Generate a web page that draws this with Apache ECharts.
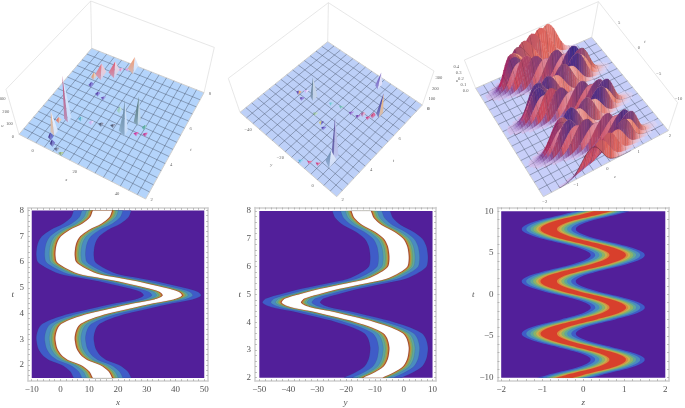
<!DOCTYPE html>
<html>
<head>
<meta charset="utf-8">
<style>
  html, body { margin: 0; padding: 0; background: #fff; }
  #chart { width: 685px; height: 408px; filter: blur(0.45px); }
</style>
<script src="https://cdn.jsdelivr.net/npm/echarts@6/dist/echarts.min.js"></script>
</head>
<body>
<div id="chart"></div>
<script>
/* -------------------------------------------------------------------------- */
/*                                    Data                                    */
/* -------------------------------------------------------------------------- */
// contour ridges: t rows and the ridge centre at each row
var xRowT = [1.5, 1.75, 2, 2.2, 2.4, 2.65, 2.9, 3.1, 3.4, 3.6, 3.8, 4, 4.2, 4.4, 4.55, 4.7, 4.85, 5, 5.2, 5.4, 5.55, 5.8, 6, 6.25, 6.5, 6.75, 7, 7.25, 7.5, 7.75, 8];
var xCentre = [14.6, 13.4, 10.4, 5.9, 3.6, 2.2, 1.7, 1.6, 2.3, 3.7, 7.5, 13.3, 20.9, 29, 36, 38.9, 37.7, 33, 25.5, 16.2, 9.5, 4.6, 2.1, 1.6, 1.7, 2.2, 3.5, 6.5, 11, 13.7, 14.6];
var xTicks = [-10, 0, 10, 20, 30, 40, 50];
var xMinor = [-8, -6, -4, -2, 2, 4, 6, 8, 12, 14, 16, 18, 22, 24, 26, 28, 32, 34, 36, 38, 42, 44, 46, 48];
var xT = [2, 3, 4, 5, 6, 7, 8];
var xTMinor = [1.6, 1.8, 2.2, 2.4, 2.6, 2.8, 3.2, 3.4, 3.6, 3.8, 4.2, 4.4, 4.6, 4.8, 5.2, 5.4, 5.6, 5.8, 6.2, 6.4, 6.6, 6.8, 7.2, 7.4, 7.6, 7.8];

var yRowT = [2, 2.2, 2.4, 2.65, 2.9, 3.1, 3.4, 3.6, 3.8, 4, 4.2, 4.4, 4.55, 4.7, 4.85, 5, 5.2, 5.4, 5.55, 5.8, 6, 6.25, 6.5, 6.75, 7, 7.25, 7.5, 7.75, 8];
var yCentre = [-10.7, -6.5, -3.6, -2.2, -1.7, -1.6, -2.3, -3.7, -7.5, -13.3, -20.9, -29, -36, -38.9, -37.7, -33, -25.5, -16.2, -9.5, -4.6, -2.1, -1.6, -1.7, -2.2, -3.5, -6.5, -11, -13.7, -14.7];
var yTicks = [-50, -40, -30, -20, -10, 0, 10];
var yMinor = [-48, -46, -44, -42, -38, -36, -34, -32, -28, -26, -24, -22, -18, -16, -14, -12, -8, -6, -4, -2, 2, 4, 6, 8];
var yT = [2, 3, 4, 5, 6, 7, 8];
var yTMinor = [2.2, 2.4, 2.6, 2.8, 3.2, 3.4, 3.6, 3.8, 4.2, 4.4, 4.6, 4.8, 5.2, 5.4, 5.6, 5.8, 6.2, 6.4, 6.6, 6.8, 7.2, 7.4, 7.6, 7.8];

// third panel rows run -10..10 in thirds so the mesh falls on every 4th row
var zRowT = [-10, -9.667, -9.333, -9, -8.667, -8.333, -8, -7.667, -7.333, -7, -6.667, -6.333, -6, -5.667, -5.333, -5, -4.667, -4.333, -4, -3.667, -3.333, -3, -2.667, -2.333, -2, -1.667, -1.333, -1, -0.667, -0.333, 0, 0.333, 0.667, 1, 1.333, 1.667, 2, 2.333, 2.667, 3, 3.333, 3.667, 4, 4.333, 4.667, 5, 5.333, 5.667, 6, 6.333, 6.667, 7, 7.333, 7.667, 8, 8.333, 8.667, 9, 9.333, 9.667, 10];
var zCentre = [-0.46, -0.21, 0.07, 0.35, 0.58, 0.74, 0.83, 0.83, 0.73, 0.55, 0.31, 0.04, -0.24, -0.49, -0.68, -0.81, -0.84, -0.78, -0.64, -0.42, -0.16, 0.12, 0.38, 0.61, 0.76, 0.84, 0.82, 0.71, 0.52, 0.28, 0, -0.28, -0.52, -0.71, -0.82, -0.84, -0.76, -0.61, -0.38, -0.12, 0.16, 0.42, 0.64, 0.78, 0.84, 0.81, 0.68, 0.49, 0.24, -0.04, -0.31, -0.55, -0.73, -0.83, -0.83, -0.74, -0.58, -0.35, -0.07, 0.21, 0.46];
var zPeak = [0.36, 0.38, 0.40, 0.36, 0.44, 0.38, 0.46, 0.34, 0.45, 0.38, 0.44, 0.33, 0.42, 0.36, 0.46, 0.35, 0.40, 0.44, 0.34, 0.46, 0.36, 0.44, 0.33, 0.45, 0.36, 0.46, 0.34, 0.43, 0.37, 0.45, 0.33, 0.42, 0.44, 0.35, 0.46, 0.37, 0.47, 0.33, 0.44, 0.37, 0.45, 0.34, 0.46, 0.38, 0.44, 0.33, 0.46, 0.36, 0.44, 0.35, 0.42, 0.45, 0.36, 0.44, 0.47, 0.42, 0.46, 0.48, 0.50, 0.50, 0.48];
var zProfile = [1, 0.95, 0.8, 0.6, 0.4, 0.24, 0.13, 0.07, 0.035, 0.015, 0.006, 0];
var zTicks = [-2, -1, 0, 1, 2];
var zMinor = [-1.8, -1.6, -1.4, -1.2, -0.8, -0.6, -0.4, -0.2, 0.2, 0.4, 0.6, 0.8, 1.2, 1.4, 1.6, 1.8];
var zT = [-10, -5, 0, 5, 10];
var zTMinor = [-9, -8, -7, -6, -4, -3, -2, -1, 1, 2, 3, 4, 6, 7, 8, 9];

// half width of each contour level, outermost first
var xyLevels = [10, 7.1, 5.5, 4.7, 4.2, 3.9, 3.6, 3.35];
var zLevels = [0.66, 0.55, 0.45, 0.38, 0.31, 0.25, 0.2];

// peaks on the first surface: x, t, height
var peak1X = [3, 1.9, 27.5, 26.4, 30, 14, 7.5, 2.8, 0.5, 1.8, 7, 10.2, 7.6, 12.4, 16.5, 21.2, 34, 32.2, 35.9, 2, 4.3, 7, 9.6, 0.2, 8.8, 11.6, 20];
var peak1T = [3.9, 2.93, 4.52, 4.55, 5.28, 7.76, 7.17, 6.8, 6.53, 6.09, 5.79, 5.73, 4.2, 4.26, 4.4, 4.61, 5.18, 4.73, 4.89, 2.6, 2.33, 2.2, 2.1, 3.6, 7.5, 7.65, 5.44];
var peak1H = [340, 170, 250, 130, 200, 100, 95, 95, 45, 30, 22, 15, 24, 18, 18, 12, 25, 15, 15, 45, 40, 15, 15, 35, 12, 12, 40];

// peaks on the second surface: y, t, height
var peak2Y = [-3.7, -2.8, -31.8, -13.4, -2.4, -5.5, -4.3, -8.5, -9.7, -13.3, -19, -23.6, -35.5, -38.7, -36.9, -25.3, -20, -17.4, -6.9, -10.3, -13.6];
var peak2T = [3.42, 3.05, 5.08, 7.54, 6.4, 5.94, 6.15, 5.92, 5.7, 5.64, 5.59, 5.4, 4.68, 4.81, 5.13, 4.48, 4.3, 4.18, 2.62, 2.41, 2.16];
var peak2H = [340, 110, 190, 130, 200, 16, 40, 30, 16, 14, 10, 16, 15, 24, 14, 16, 22, 14, 12, 12, 14];

var uTicks1 = [0, 100, 200, 300];
var uTicks2 = [0, 100, 200, 300];
var uTicks3 = [0, 0.1, 0.2, 0.3, 0.4];
var xTicks3d = [0, 20, 40];
var yTicks3d = [-40, -20, 0];
var tTicks3d = [2, 4, 6, 8];
var zTicks3d = [-2, -1, 0, 1, 2];
var tTicks3dZ = [-10, -5, 0, 5, 10];

/* -------------------------------------------------------------------------- */
/*                                   Styles                                   */
/* -------------------------------------------------------------------------- */
var purple = '#521f9a';
var xyColors = ['#3f5cc8', '#4a8cc0', '#5fa79c', '#86b068', '#c4a84a', '#d07c34', '#a8422a', '#ffffff'];
var zColors = ['#3f5cc8', '#4a8cc0', '#5fa79c', '#8ab46a', '#c6b04e', '#dd8a3c', '#d83f2c'];
var serif = '"Liberation Serif", serif';

// [dark face, light face] of each peak, same order as the peak arrays
var peak1Faces = [['#c0466e', '#dfe8fb'], ['#f0b080', '#f2f4fd'], ['#5f7f98', '#d5e4f6'], ['#6f93a8', '#e4eefa'], ['#4d6f70', '#c7d8dc'], ['#f49a70', '#e8effc'], ['#e05a70', '#f3d2dc'], ['#e8707a', '#f6c9d0'], ['#f09050', '#f8d0a8'], ['#4a2e9e', '#7a6ad0'], ['#4a2e9e', '#8a7ae0'], ['#5a3aaa', '#a090e0'], ['#48a8c8', '#a0d8e8'], ['#d0a8f0', '#ecd8fa'], ['#404860', '#8a8aa0'], ['#404860', '#8a8aa0'], ['#40a088', '#90c8b8'], ['#d02090', '#f060b0'], ['#c02080', '#e85aa8'], ['#301a80', '#5050c0'], ['#2c1a78', '#6a60c0'], ['#505878', '#9aa0b0'], ['#80a060', '#b8d090'], ['#f06040', '#f8c8a0'], ['#f080c0', '#f8c0e0'], ['#e890d8', '#f8d0f0'], ['#90c8a8', '#c0e0d0']];
var peak2Faces = [['#3a2a80', '#b8b4e0'], ['#6a8ab0', '#e0e8f8'], ['#506f80', '#c8d4e0'], ['#6a50b8', '#f0e8fb'], ['#3a3090', '#f0b070'], ['#d03078', '#e870a0'], ['#c82860', '#e85080'], ['#a85090', '#f0a8c0'], ['#6030a0', '#b070d0'], ['#7040b0', '#b080e0'], ['#60b8a8', '#a0e0d0'], ['#60c8d0', '#a8e0e8'], ['#5a38a8', '#8a70d8'], ['#5030a0', '#f0a060'], ['#d0a8f0', '#f0e0fb'], ['#80b080', '#c0e0c0'], ['#d0c860', '#5a48b0'], ['#4838a8', '#8070d8'], ['#d03070', '#e86890'], ['#d84080', '#f07098'], ['#40b0d8', '#90d8f0']];

// picture-plane geometry of the three boxes: floor corners and box height per corner
var box1 = { floor: [[19, 134.3], [145.7, 199], [204, 92.7], [91.7, 48.3]], up: [[-13, -45], [0, -53], [10.3, -45.3], [-1, -47.3]], top: 360, fill: '#b4d4fb' };
var box2 = { floor: [[15, 112.3], [111.7, 196.7], [197.3, 105], [102.7, 41.7]], up: [[-11.7, -34], [0, -41], [11.7, -34], [0.7, -39]], top: 330, fill: '#bdd0f8' };
var box3 = { floor: [[88.3, 196.7], [213.3, 130.7], [136.7, 37.3], [20.7, 88.3]], up: [[-3, -35], [9.3, -28], [6.7, -35.7], [-11.3, -28.3]], top: 0.48, fill: '#c8cff9' };

/* -------------------------------------------------------------------------- */
/*                                  Helpers                                   */
/* -------------------------------------------------------------------------- */
function blend(c, a, b) {
  return [
    (1 - a) * (1 - b) * c[0][0] + a * (1 - b) * c[1][0] + a * b * c[2][0] + (1 - a) * b * c[3][0],
    (1 - a) * (1 - b) * c[0][1] + a * (1 - b) * c[1][1] + a * b * c[2][1] + (1 - a) * b * c[3][1]
  ];
}

function project(box, a, b, h) {
  var p = blend(box.floor, a, b);
  var u = blend(box.up, a, b);
  var s = h / box.top;
  return [p[0] + s * u[0], p[1] + s * u[1]];
}

function hex(c) {
  return [parseInt(c.substr(1, 2), 16), parseInt(c.substr(3, 2), 16), parseInt(c.substr(5, 2), 16)];
}

function mix(c1, c2, k) {
  k = Math.max(0, Math.min(1, k));
  var a = hex(c1), b = hex(c2);
  var out = '#';
  for (var i = 0; i < 3; i++) {
    var v = Math.round(a[i] + (b[i] - a[i]) * k).toString(16);
    out += v.length < 2 ? '0' + v : v;
  }
  return out;
}

function minusSign(v) {
  return String(v).replace('-', '\u2212');
}

var grids = [], xAxes = [], yAxes = [], series = [];

function hiddenAxes(left) {
  grids.push({ left: left, top: 0, width: 230, height: 205 });
  xAxes.push({ gridIndex: grids.length - 1, type: 'value', min: 0, max: 230, show: false });
  yAxes.push({ gridIndex: grids.length - 1, type: 'value', min: 0, max: 205, inverse: true, show: false });
}

// the surfaces use axes 0, 1 and 2, so these come first
hiddenAxes(0);
hiddenAxes(225);
hiddenAxes(455);

/* -------------------------------------------------------------------------- */
/*                               Contour panels                               */
/* -------------------------------------------------------------------------- */
function frameAxis(gridIndex, position, range, ticks, minor, labelled, name) {
  var axis = {
    gridIndex: gridIndex,
    type: 'value',
    position: position,
    min: range[0],
    max: range[1],
    splitLine: { show: false },
    axisLine: { show: true, onZero: false, lineStyle: { color: '#cfcfcf', width: 1.5 } },
    axisTick: { show: true, inside: true, length: 2, customValues: ticks.concat(minor), lineStyle: { color: '#9a9a9a', width: 0.6 } },
    axisLabel: { show: labelled, customValues: ticks, formatter: minusSign, color: '#555', fontFamily: serif, fontSize: 9, margin: 4 }
  };
  if (name) {
    axis.name = name;
    axis.nameLocation = 'middle';
    axis.nameRotate = 0;
    axis.nameGap = 17;
    axis.nameTextStyle = { color: '#555', fontFamily: serif, fontStyle: 'italic', fontSize: 9 };
  }
  return axis;
}

function contourPanel(opt) {
  var g = grids.length;
  grids.push({ left: opt.left, top: opt.top, width: opt.width, height: opt.height });
  var xi = xAxes.length, yi = yAxes.length;
  xAxes.push(frameAxis(g, 'bottom', opt.xRange, opt.xTicks, opt.xMinor, true, opt.xName));
  xAxes.push(frameAxis(g, 'top', opt.xRange, opt.xTicks, opt.xMinor, false));
  yAxes.push(frameAxis(g, 'left', opt.tRange, opt.tTicks, opt.tMinor, true, 't'));
  yAxes.push(frameAxis(g, 'right', opt.tRange, opt.tTicks, opt.tMinor, false));
  yAxes[yi].nameGap = opt.tGap;

  // level 0 is the plot background, then the nested bands
  var levels = [null].concat(opt.levels);
  series.push({
    type: 'custom',
    coordinateSystem: 'cartesian2d',
    xAxisIndex: xi,
    yAxisIndex: yi,
    clip: false,
    silent: true,
    data: levels.map(function (w, i) { return [i]; }),
    encode: { x: 0, y: 0 },
    renderItem: function (params, api) {
      var i = params.dataIndex;
      if (i === 0) {
        var p0 = api.coord([opt.xFill[0], opt.rows[opt.rows.length - 1]]);
        var p1 = api.coord([opt.xFill[1], opt.rows[0]]);
        return { type: 'rect', shape: { x: p0[0], y: p0[1], width: p1[0] - p0[0], height: p1[1] - p0[1] }, style: { fill: purple } };
      }
      var w = levels[i], left = [], right = [];
      opt.rows.forEach(function (t, k) {
        left.push(api.coord([opt.centre[k] - w, t]));
        right.unshift(api.coord([opt.centre[k] + w, t]));
      });
      // guard points keep the square ends square once the sides are smoothed
      var lastL = left[left.length - 1], firstR = right[0], lastR = right[right.length - 1], firstL = left[0];
      var points = left
        .concat([[lastL[0] + 0.5, lastL[1]], [firstR[0] - 0.5, firstR[1]]])
        .concat(right)
        .concat([[lastR[0] - 0.5, lastR[1]], [firstL[0] + 0.5, firstL[1]]]);
      return {
        type: 'polygon',
        shape: { points: points, smooth: 0.3 },
        style: { fill: opt.colors[i - 1], stroke: opt.edge, lineWidth: 0.4 }
      };
    }
  });
}

contourPanel({ left: 28, top: 208, width: 180, height: 174, xRange: [-11.3, 51.3], tRange: [1.38, 8.1], xFill: [-10, 50], rows: xRowT, centre: xCentre, levels: xyLevels, colors: xyColors, edge: 'rgba(50,30,20,0.22)', xTicks: xTicks, xMinor: xMinor, tTicks: xT, tMinor: xTMinor, xName: 'x', tGap: 14 });
contourPanel({ left: 255, top: 207.5, width: 181, height: 174, xRange: [-51.5, 11.2], tRange: [1.88, 8.13], xFill: [-50, 10], rows: yRowT, centre: yCentre, levels: xyLevels, colors: xyColors, edge: 'rgba(50,30,20,0.22)', xTicks: yTicks, xMinor: yMinor, tTicks: yT, tMinor: yTMinor, xName: 'y', tGap: 14 });
contourPanel({ left: 497.5, top: 207.5, width: 171.5, height: 174, xRange: [-2.09, 2.09], tRange: [-10.4, 10.44], xFill: [-2, 2], rows: zRowT, centre: zCentre, levels: zLevels, colors: zColors, edge: 'rgba(40,30,60,0.08)', xTicks: zTicks, xMinor: zMinor, tTicks: zT, tMinor: zTMinor, xName: 'z', tGap: 21 });

/* -------------------------------------------------------------------------- */
/*                                Surface boxes                               */
/* -------------------------------------------------------------------------- */
// floor, mesh, back edges of the box and the little tick labels
function boxSeries(box, index, labels, edges) {
  series.push({
    type: 'custom',
    coordinateSystem: 'cartesian2d',
    xAxisIndex: index,
    yAxisIndex: index,
    clip: false,
    silent: true,
    data: [[0, 0]],
    encode: { x: 0, y: 1 },
    renderItem: function (params, api) {
      function pt(a, b, h) {
        return api.coord(project(box, a, b, h));
      }
      var kids = [];
      edges.forEach(function (e) {
        var a = pt(e[0], e[1], e[2] * box.top), b = pt(e[3], e[4], e[5] * box.top);
        kids.push({
          type: 'line',
          shape: { x1: a[0], y1: a[1], x2: b[0], y2: b[1] },
          style: { stroke: '#dcdcdc', lineWidth: 0.7 }
        });
      });
      kids.push({
        type: 'polygon',
        shape: { points: [pt(0, 0, 0), pt(1, 0, 0), pt(1, 1, 0), pt(0, 1, 0)] },
        style: { fill: box.fill, stroke: '#d0d0d0', lineWidth: 1 }
      });
      for (var i = 1; i < 15; i++) {
        var p = i / 15;
        [[p, 0, p, 1], [0, p, 1, p]].forEach(function (m) {
          var a = pt(m[0], m[1], 0), b = pt(m[2], m[3], 0);
          kids.push({ type: 'line', shape: { x1: a[0], y1: a[1], x2: b[0], y2: b[1] }, style: { stroke: 'rgba(70,80,100,0.8)', lineWidth: 0.55 } });
        });
      }
      labels.forEach(function (l) {
        var at = pt(l[0], l[1], l[2]);
        kids.push({
          type: 'text',
          x: at[0] + l[3],
          y: at[1] + l[4],
          style: { text: l[5], fill: '#666', font: (l[6] ? 'italic ' : '') + '4.6px "Liberation Serif"', textAlign: 'center', textVerticalAlign: 'middle' }
        });
      });
      return { type: 'group', children: kids };
    }
  });
}

function tickLabels(values, toPos, dx, dy, format) {
  return values.map(function (v) {
    var p = toPos(v);
    return [p[0], p[1], p[2], dx, dy, format ? format(v) : minusSign(v)];
  });
}

// spikes of the two sparse surfaces, drawn back to front
function peakSeries(box, index, xs, ts, hs, faces, xMin, xSpan, tMin, tSpan) {
  var order = xs.map(function (v, i) { return i; }).sort(function (i, j) {
    var a = project(box, (xs[i] - xMin) / xSpan, (ts[i] - tMin) / tSpan, 0);
    var b = project(box, (xs[j] - xMin) / xSpan, (ts[j] - tMin) / tSpan, 0);
    return a[1] - b[1];
  });
  series.push({
    type: 'custom',
    coordinateSystem: 'cartesian2d',
    xAxisIndex: index,
    yAxisIndex: index,
    clip: false,
    silent: true,
    data: order.map(function (i) { return [xs[i], ts[i], hs[i], i]; }),
    encode: { x: 0, y: 1 },
    renderItem: function (params, api) {
      var i = api.value(3), x = (api.value(0) - xMin) / xSpan, t = (api.value(1) - tMin) / tSpan, h = api.value(2);
      // tall needles are narrow, the mid-height humps are the broad ones
      var w = hs[i] > 120 ? 0.032 : hs[i] > 60 ? 0.05 : 0.024;
      var top = api.coord(project(box, x, t, h));
      var lf = api.coord(project(box, x - w, t - w * 0.2, 0));
      var rt = api.coord(project(box, x + w * 0.2, t + w, 0));
      var mid = api.coord(project(box, x + w * 0.3, t - w * 0.8, 0));
      function grad(c) {
        return { type: 'linear', x: 0, y: 0, x2: 0, y2: 1, colorStops: [{ offset: 0, color: c }, { offset: 1, color: mix(c, box.fill, 0.55) }] };
      }
      return {
        type: 'group',
        children: [
          { type: 'polygon', shape: { points: [mid, rt, top] }, style: { fill: grad(faces[i][1]) } },
          { type: 'polygon', shape: { points: [lf, mid, top] }, style: { fill: grad(faces[i][0]) } }
        ]
      };
    }
  });
}

var backEdges = [[0, 0, 1, 0, 1, 1], [0, 1, 1, 1, 1, 1], [0, 1, 0, 0, 1, 1], [0, 0, 0, 0, 0, 1], [1, 1, 0, 1, 1, 1]];
boxSeries(box1, 0,
  tickLabels(xTicks3d, function (v) { return [(v + 10) / 60, 0, 0]; }, -7.5, 5.5)
    .concat(tickLabels(tTicks3d, function (v) { return [1, (v - 2) / 6, 0]; }, 6, 1))
    .concat(tickLabels(uTicks1, function (v) { return [0, 0, v]; }, -6, 2))
    .concat([[0.5, 0, 0, -16, 13, 'x', true], [1, 0.5, 0, 16, 4, 't', true], [0, 0, 100, -13, 4, 'u', true]]),
  backEdges);
boxSeries(box2, 1,
  tickLabels(yTicks3d, function (v) { return [(v + 50) / 60, 0, 0]; }, -8, 3.5)
    .concat(tickLabels(tTicks3d, function (v) { return [1, (v - 2) / 6, 0]; }, 6, 3.5))
    .concat(tickLabels(uTicks2, function (v) { return [1, 1, v]; }, 6, 4))
    .concat([[0.5, 0, 0, -17, 10, 'y', true], [1, 0.5, 0, 14, 10, 't', true]]),
  backEdges);

peakSeries(box1, 0, peak1X, peak1T, peak1H, peak1Faces, -10, 60, 2, 6);
peakSeries(box2, 1, peak2Y, peak2T, peak2H, peak2Faces, -50, 60, 2, 6);

/* -------------------------------------------------------------------------- */
/*                            Dense surface (third)                           */
/* -------------------------------------------------------------------------- */
function heightAt(row, col) {
  var z = -2 + col / 15;
  var d = Math.abs(z - zCentre[row]) * 10;
  var k = Math.floor(d);
  if (k >= zProfile.length - 1) return 0;
  return zPeak[row] * (zProfile[k] + (zProfile[k + 1] - zProfile[k]) * (d - k));
}

boxSeries(box3, 2,
  tickLabels(zTicks3d, function (v) { return [(v + 2) / 4, 0, 0]; }, 1.5, 5)
    .concat(tickLabels(tTicks3dZ, function (v) { return [1, (v + 10) / 20, box3.top]; }, 1, -4))
    .concat(tickLabels(uTicks3, function (v) { return [0, 1, v]; }, -10, 2, function (v) { return v.toFixed(1); }))
    .concat([[0.5, 0, 0, 9, 13, 'z', true], [1, 0.5, box3.top, 7, -10, 't', true], [0, 1, 0.2, -14, 4, 'u', true]]),
  [[0, 1, 1, 1, 1, 1], [1, 1, 1, 1, 0, 1], [0, 1, 0, 0, 1, 1], [1, 1, 0, 1, 1, 1], [1, 0, 0, 1, 0, 1]]);

var quads = [];
for (var r = 0; r < zRowT.length - 1; r++) {
  for (var c = 0; c < 60; c++) {
    if (heightAt(r, c) + heightAt(r + 1, c) + heightAt(r, c + 1) + heightAt(r + 1, c + 1) > 0.004) {
      quads.push([r, c, project(box3, (c + 0.5) / 60, (r + 0.5) / 60, 0)[1]]);
    }
  }
}
quads.sort(function (a, b) { return a[2] - b[2]; });

series.push({
  type: 'custom',
  coordinateSystem: 'cartesian2d',
  xAxisIndex: 2,
  yAxisIndex: 2,
  clip: false,
  silent: true,
  progressive: 0,
  data: quads.map(function (q) { return [q[0], q[1]]; }),
  encode: { x: 0, y: 1 },
  renderItem: function (params, api) {
    var r = api.value(0), c = api.value(1);
    var h00 = heightAt(r, c), h01 = heightAt(r, c + 1), h10 = heightAt(r + 1, c), h11 = heightAt(r + 1, c + 1);
    function pt(row, col, h) {
      return api.coord(project(box3, col / 60, row / 60, h));
    }
    var p00 = pt(r, c, h00), p01 = pt(r, c + 1, h01), p11 = pt(r + 1, c + 1, h11), p10 = pt(r + 1, c, h10);
    var avg = (h00 + h01 + h10 + h11) / 4;
    var slopeZ = ((h01 + h11) - (h00 + h10)) / 2 * 15;
    var slopeT = ((h10 + h11) - (h00 + h01)) / 2 * 15;

    // crimson on faces turned towards low z, orange on the others
    var side = slopeZ / (Math.abs(slopeZ) + Math.abs(slopeT) + 0.1);
    var color = mix('#b5285f', '#f4875a', 0.5 - side * 0.75);

    // the saw-tooth along the crest gives the navy and pale streaks
    var jag = (zPeak[r + 1] - zPeak[r]) * (avg / 0.45);
    if (jag > 0.01) color = mix(color, '#3c2a8c', jag * 9);
    else if (jag < -0.01) color = mix(color, '#f8dce0', -jag * 7);

    if (avg < 0.09) {
      var low = slopeZ > 0 ? mix('#4a5ad8', '#d9c8f0', 1 - avg / 0.05) : mix('#f7d0da', '#d5d6fa', 1 - avg / 0.03);
      color = mix(low, color, avg / 0.09);
    }
    var kids = [{
      type: 'polygon',
      shape: { points: [p00, p01, p11, p10] },
      style: { fill: color, stroke: color, lineWidth: 0.3 }
    }];
    var mesh = { stroke: 'rgba(35,20,40,0.7)', lineWidth: 0.5 };
    if (r % 4 === 0) kids.push({ type: 'line', shape: { x1: p00[0], y1: p00[1], x2: p01[0], y2: p01[1] }, style: mesh });
    if (c % 4 === 0) kids.push({ type: 'line', shape: { x1: p00[0], y1: p00[1], x2: p10[0], y2: p10[1] }, style: mesh });
    return { type: 'group', children: kids };
  }
});

var chartDom = document.querySelector('#chart');
var myChart = echarts.init(chartDom);
myChart.setOption({
  animation: false,
  backgroundColor: '#ffffff',
  grid: grids,
  xAxis: xAxes,
  yAxis: yAxes,
  series: series
});
</script>
</body>
</html>
